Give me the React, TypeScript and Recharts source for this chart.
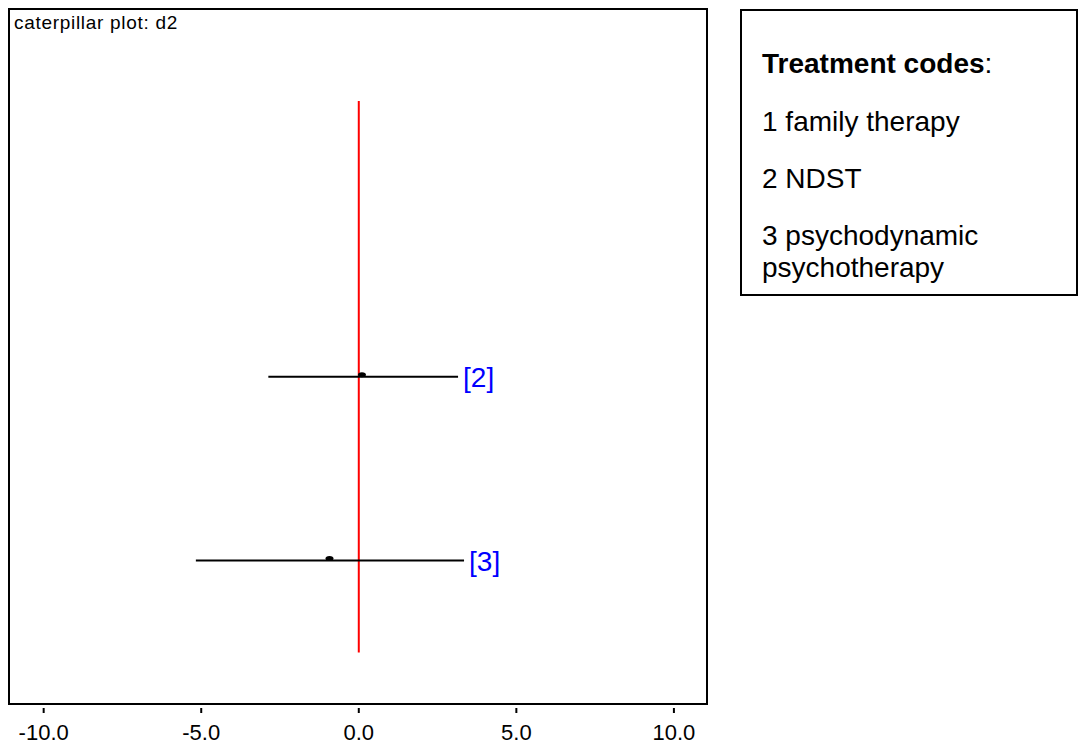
import {
  ComposedChart,
  XAxis,
  YAxis,
  Scatter,
  ReferenceLine,
  ReferenceArea,
} from "recharts";

const FONT = '"Liberation Sans", Arial, sans-serif';

// caterpillar rows for d[2], d[3] (d[1] is fixed at 0)
const nodeLabels = ["[2]", "[3]"];
const nodePos = [2, 3];
const means = [0.1, -0.93];
const lower = [-2.87, -5.17];
const upper = [3.15, 3.34];

const xTicks = [-10, -5, 0, 5, 10];
const xDomain: [number, number] = [-11.1, 11.05];
const yDomain: [number, number] = [0, 3.78];

const legendTitle = "Treatment codes";
const legendLines = ["1 family therapy", "2 NDST", "3 psychodynamic", "psychotherapy"];

const rows = nodeLabels.map((label, i) => ({
  label,
  pos: nodePos[i],
  mean: means[i],
  lo: lower[i],
  hi: upper[i],
}));

function XTick(props: any) {
  const { x, y, payload } = props;
  return (
    <g>
      <line x1={x} x2={x} y1={y + 4} y2={y + 9} stroke="#000" strokeWidth={2} />
      <text
        x={x}
        y={y + 36}
        textAnchor="middle"
        fontFamily={FONT}
        fontSize={22}
        fill="#000"
      >
        {Number(payload.value).toFixed(1)}
      </text>
    </g>
  );
}

function MeanDot(props: any) {
  const { cx, cy } = props;
  return <ellipse cx={cx} cy={cy - 2} rx={4} ry={2.5} fill="#000" />;
}

function NodeLabel(props: any) {
  const { cx, cy, payload } = props;
  return (
    <text x={cx + 5} y={cy + 10} fontFamily={FONT} fontSize={28} fill="#0000ff">
      {payload.label}
    </text>
  );
}

export default function App() {
  return (
    <div style={{ position: "absolute", left: 0, top: 0, width: 1080, height: 744, background: "#fff" }}>
      <ComposedChart
        width={1080}
        height={744}
        data={rows}
        margin={{ top: 9, left: 9, right: 373, bottom: 0 }}
      >
        <XAxis
          type="number"
          dataKey="mean"
          domain={xDomain}
          ticks={xTicks}
          allowDataOverflow
          axisLine={false}
          tickLine={false}
          tickSize={0}
          tickMargin={0}
          height={40}
          tick={<XTick />}
          interval={0}
        />
        <YAxis type="number" dataKey="pos" domain={yDomain} reversed hide allowDataOverflow />
        <ReferenceArea
          x1={xDomain[0]}
          x2={xDomain[1]}
          y1={yDomain[0]}
          y2={yDomain[1]}
          fill="none"
          stroke="#000"
          strokeWidth={2}
          ifOverflow="visible"
        />
        <ReferenceLine
          segment={[
            { x: 0, y: 0.5 },
            { x: 0, y: 3.5 },
          ]}
          stroke="#ff0000"
          strokeWidth={2}
        />
        {rows.map((r) => (
          <ReferenceLine
            key={r.label}
            segment={[
              { x: r.lo, y: r.pos },
              { x: r.hi, y: r.pos },
            ]}
            stroke="#000"
            strokeWidth={2}
          />
        ))}
        <Scatter dataKey="pos" data={rows} shape={<MeanDot />} isAnimationActive={false} />
        <Scatter
          data={rows.map((r) => ({ ...r, mean: r.hi }))}
          dataKey="pos"
          shape={<NodeLabel />}
          isAnimationActive={false}
        />
        <text x={14} y={29} fontFamily={FONT} fontSize={19} letterSpacing={0.7} fill="#000">
          caterpillar plot: d2
        </text>
      </ComposedChart>
      <svg
        width={1080}
        height={744}
        style={{ position: "absolute", left: 0, top: 0, pointerEvents: "none" }}
      >
        <rect x={741} y={10} width={336} height={285} fill="none" stroke="#000" strokeWidth={2} />
        <text x={762} y={73} fontFamily={FONT} fontSize={28} fill="#000">
          <tspan fontWeight="bold">{legendTitle}</tspan>
          <tspan>:</tspan>
        </text>
        {legendLines.map((line, i) => (
          <text
            key={line}
            x={762}
            y={[131, 188, 245, 277][i]}
            fontFamily={FONT}
            fontSize={28}
            fill="#000"
          >
            {line}
          </text>
        ))}
      </svg>
    </div>
  );
}
